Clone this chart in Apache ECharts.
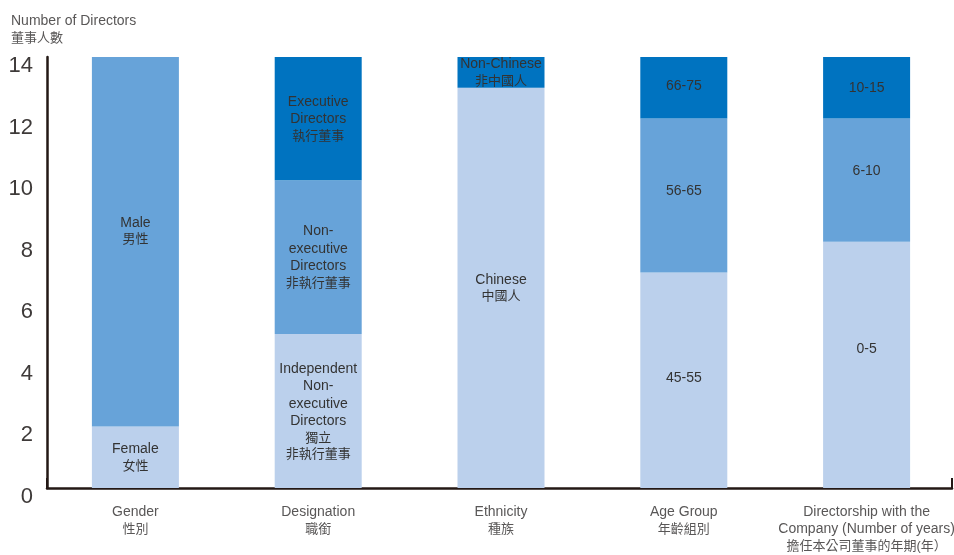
<!DOCTYPE html>
<html>
<head>
<meta charset="utf-8">
<script src="https://cdn.jsdelivr.net/npm/echarts@6/dist/echarts.min.js"></script>
<style>
html,body{margin:0;padding:0;background:#fff;}
#chart{width:954px;height:555px;}
</style>
</head>
<body>
<div id="chart"></div>
<script>
const categories = ['Gender\n性別', 'Designation\n職銜', 'Ethnicity\n種族', 'Age Group\n年齡組別', 'Directorship with the\nCompany (Number of years)\n擔任本公司董事的年期(年）'];
const bottomValues = [2, 5, 13, 7, 8];
const middleValues = [12, 5, 0, 5, 4];
const topValues = [0, 4, 1, 2, 2];
const bottomLabels = ['Female\n女性', 'Independent\nNon-\nexecutive\nDirectors\n獨立\n非執行董事', 'Chinese\n中國人', '45-55', '0-5'];
const middleLabels = ['Male\n男性', 'Non-\nexecutive\nDirectors\n非執行董事', '', '56-65', '6-10'];
const topLabels = ['', 'Executive\nDirectors\n執行董事', 'Non-Chinese\n非中國人', '66-75', '10-15'];
const yTicks = [0, 2, 4, 6, 8, 10, 12, 14];

const FONT = '"Liberation Sans", Arial, "Noto Sans CJK TC", sans-serif';
const CJK = /[\u3000-\u9fff\uff00-\uffef]/;
// small vertical nudges of some in-bar labels, as in the original artwork
const labelNudge = {'Male\n男性': -11, '6-10': -9, '0-5': -16, '56-65': -4, '45-55': -2, '66-75': -2};

function richify(text) {
  return text.split('\n').map(l => CJK.test(l) ? '{zh|' + l + '}' : '{en|' + l + '}').join('\n');
}
const barRich = {
  en: {fontSize: 14, lineHeight: 17.5, color: '#333', fontFamily: FONT},
  zh: {fontSize: 13, lineHeight: 16, color: '#333', fontFamily: FONT}
};
const catRich = {
  en: {fontSize: 14, lineHeight: 17, color: '#595757', fontFamily: FONT},
  zh: {fontSize: 13, lineHeight: 17, color: '#595757', fontFamily: FONT}
};

function barSeries(values, labels, color) {
  return {
    type: 'bar',
    stack: 'total',
    xAxisIndex: 0,
    yAxisIndex: 0,
    barWidth: 87,
    data: values.map((v, i) => ({
      value: v === 0 ? null : v,
      label: {offset: [0, labelNudge[labels[i]] || 0]}
    })),
    itemStyle: {color: color},
    label: {
      show: true,
      position: 'inside',
      formatter: p => labels[p.dataIndex] ? richify(labels[p.dataIndex]) : '',
      rich: barRich
    },
    emphasis: {disabled: true},
    animation: false
  };
}

const chart = echarts.init(document.getElementById('chart'));
chart.setOption({
  animation: false,
  backgroundColor: '#fff',
  textStyle: {fontFamily: FONT},
  title: {
    left: 6, top: 8,
    text: '{en|Number of Directors}\n{zh|董事人數}',
    textStyle: {
      fontWeight: 'normal',
      rich: {
        en: {fontSize: 14, lineHeight: 17, color: '#595757', fontFamily: FONT, fontWeight: 'normal'},
        zh: {fontSize: 13, lineHeight: 16, color: '#595757', fontFamily: FONT, fontWeight: 'normal'}
      }
    }
  },
  grid: [
    {left: 44, width: 914, top: 57, bottom: 67, outerBoundsMode: 'none', containLabel: false},
    {left: 47, right: 2, top: 57, bottom: 67, outerBoundsMode: 'none', containLabel: false}
  ],
  xAxis: [
    {
      type: 'category', gridIndex: 0, data: categories,
      axisLine: {show: false}, axisTick: {show: false},
      axisLabel: {
        margin: 16, interval: 0, hideOverlap: false,
        formatter: v => richify(v),
        rich: catRich
      }
    },
    {
      type: 'value', gridIndex: 1, min: 0, max: 1, interval: 1,
      axisLine: {show: true, lineStyle: {color: '#231815', width: 2.5}},
      axisTick: {show: true, inside: true, length: 10, lineStyle: {color: '#231815', width: 2}},
      axisLabel: {show: false},
      splitLine: {show: false}
    }
  ],
  yAxis: [
    {type: 'value', gridIndex: 0, min: 0, max: 14, interval: 2, show: false},
    {
      type: 'value', gridIndex: 1, min: yTicks[0], max: yTicks[yTicks.length - 1], interval: 2,
      axisLine: {show: true, lineStyle: {color: '#231815', width: 2.5}},
      axisTick: {show: false},
      splitLine: {show: false},
      axisLabel: {
        margin: 14, fontSize: 22, color: '#3e3a39', fontFamily: FONT,
        verticalAlign: 'top', lineHeight: 18
      }
    }
  ],
  series: [
    barSeries(bottomValues, bottomLabels, '#bbd0ec'),
    barSeries(middleValues, middleLabels, '#67a3d9'),
    barSeries(topValues, topLabels, '#0073c0')
  ]
});
</script>
</body>
</html>
